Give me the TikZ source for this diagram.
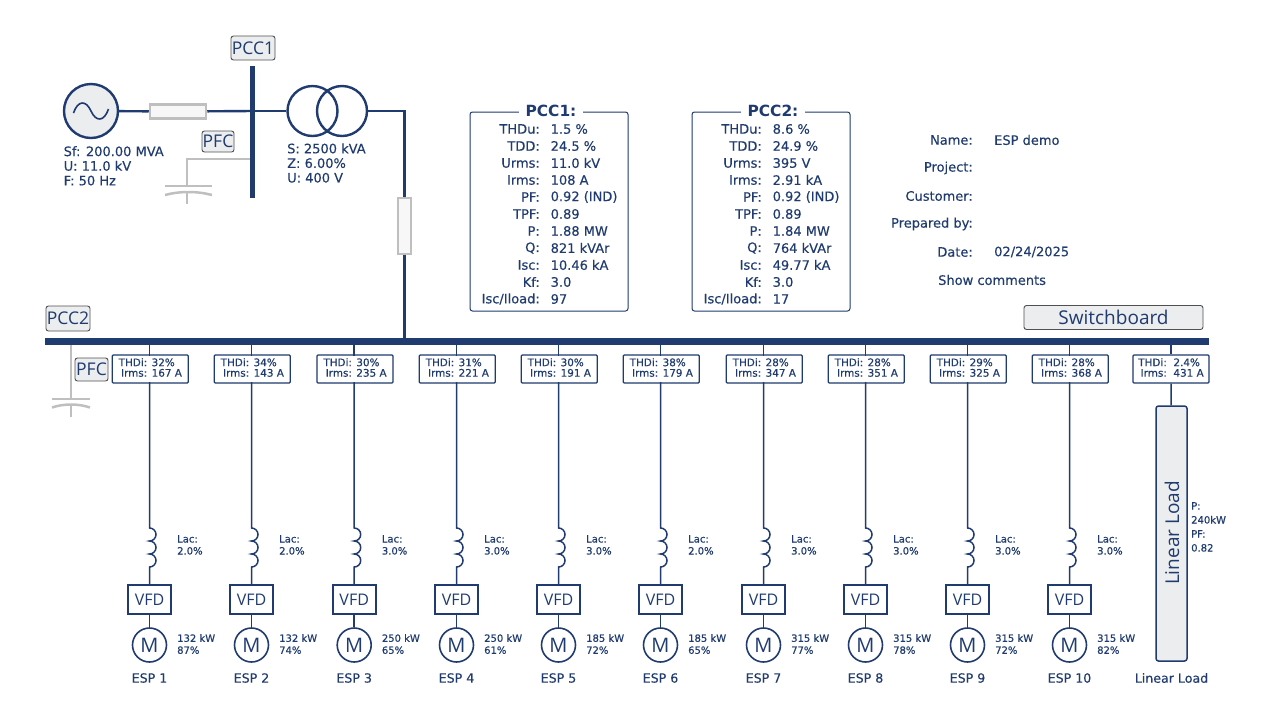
\documentclass[tikz,border=0pt]{standalone}
\usepackage{fontspec}
\setmainfont{DejaVu Sans}
\newfontfamily\tagfont{Open Sans}
\newfontfamily\datafont[FakeBold=0.3]{DejaVu Sans}
\newfontfamily\smallfont[FakeBold=0.5]{DejaVu Sans}
\usetikzlibrary{positioning}

\definecolor{navy}{HTML}{1F3B6F}
\definecolor{panel}{HTML}{EBEDEE}
\definecolor{ghost}{HTML}{BFBFBF}
\definecolor{tagline}{HTML}{505050}

\tikzset{
  wire/.style={draw=navy,line width=2.4pt},
  feeder/.style={draw=navy,line width=1.5pt},
  offline/.style={draw=ghost,line width=2.8pt},
  plate/.style={draw=ghost,line width=2.5pt},
  busbar/.style={draw=navy,line width=6.5pt},
  tag/.style={draw=tagline,fill=panel,rounded corners=2.5pt,line width=.9pt,text=navy,inner sep=0pt,font=\tagfont\fontsize{#1}{#1}\selectfont},
  tag/.default=18pt,
  resistor/.style={draw=ghost,fill=white!97!black,line width=2.5pt,inner sep=0pt},
  txt/.style={text=navy,inner sep=0pt,font=\datafont\fontsize{13pt}{14.6pt}\selectfont},
  small/.style={text=navy,inner sep=0pt,font=\smallfont\fontsize{10pt}{12pt}\selectfont},
  meas/.style={draw=navy,fill=white,rounded corners=1pt,line width=1.2pt,minimum width=76pt,minimum height=28pt,inner sep=0pt,text=navy,font=\smallfont\fontsize{10.4pt}{12pt}\selectfont},
  vfd/.style={draw=navy,line width=1.6pt,minimum width=43pt,minimum height=29pt,inner sep=0pt,text=navy,font=\tagfont\fontsize{16pt}{16pt}\selectfont},
  motor/.style={circle,draw=navy,line width=1.6pt,minimum size=34pt,inner sep=0pt,text=navy,font=\tagfont\fontsize{20pt}{20pt}\selectfont},
  info/.style={draw=navy,rounded corners=2.5pt,line width=1pt,minimum width=158pt,minimum height=199pt,inner sep=0pt},
  headline/.style={fill=white,text=navy,inner xsep=7pt,inner ysep=1pt,font=\bfseries\fontsize{15.4pt}{16pt}\selectfont}
}

\begin{document}
\begin{tikzpicture}[x=1pt,y=-1pt]
\useasboundingbox (0,0) rectangle (1277,724);

% Supply side
\node[circle,draw=navy,fill=panel,line width=2.4pt,minimum size=54pt,inner sep=0pt] (source) at (91,111) {};
\draw[navy,line width=1.6pt] (73.5,113) .. controls (78,100) and (86,100) .. (91,111) .. controls (96,122) and (104,122) .. (108.5,109);
\node[resistor,minimum width=56pt,minimum height=14pt] (lineres) at (178,111.5) {};
\coordinate (pccOneTop) at (252.5,66);
\coordinate (pccOneBot) at (252.5,198);
\coordinate (pccOneTap) at (252.5,111);
\coordinate (pfcOneTap) at (252.5,159);
\node[circle,draw=navy,line width=2.4pt,minimum size=50pt,inner sep=0pt] (prim) at (312.5,111) {};
\node[circle,draw=navy,line width=2.4pt,minimum size=50pt,inner sep=0pt] (sec) at (342,111) {};
\node[resistor,minimum width=13pt,minimum height=56pt] (trafores) at (404.5,226) {};
\coordinate (trafoBend) at (404.5,111);
\draw[wire] (source) -- (lineres);
\draw[wire] (lineres) -- (pccOneTap);
\draw[wire] (pccOneTap) -- (prim);
\draw[wire] (sec) -- (trafoBend) -- (trafores);

\node[tag=17.5pt,minimum width=44pt,minimum height=24pt] (pccOne) at (253,48) {PCC1};
\node[tag=17.5pt,minimum width=32pt,minimum height=21pt] (pfcOne) at (218,141.5) {PFC};

% Capacitor on PCC1
\coordinate (capOneTop) at (187,185);
\coordinate (capOneBend) at (187,159);
\draw[offline] (pfcOneTap) -- (capOneBend) -- (capOneTop);
\draw[plate] (165,186) -- (212,186);
\draw[plate] (165,195) .. controls (180,191) and (197,191) .. (212,195);
\draw[offline] (187,192) -- (187,204);
\draw[navy,line width=5.5pt] (pccOneTop) -- (pccOneBot);

\node[txt,anchor=north west,align=left] (srcdata) at (63.5,146) {Sf: 200.00 MVA\\U: 11.0 kV\\F: 50 Hz};
\node[txt,anchor=north west,align=left] (trafodata) at (287,143.2) {S: 2500 kVA\\Z: 6.00\%\\U: 400 V};

% Main bus
\coordinate (busW) at (45,341.5);
\coordinate (busE) at (1209,341.5);
\coordinate (busTrafo) at (404.5,341.5);
\draw[wire] (trafores) -- (busTrafo);
\draw[busbar] (busW) -- (busE);
\node[tag=17.5pt,minimum width=44pt,minimum height=25pt] (pccTwo) at (68,318.5) {PCC2};
\node[tag=19pt,minimum width=179pt,minimum height=24pt] (switchboard) at (1113.5,317.5) {Switchboard};
\node[tag=17.5pt,minimum width=33pt,minimum height=23pt] (pfcTwo) at (91.5,369.5) {PFC};

% Capacitor on PCC2
\coordinate (capTwoTap) at (71,345);
\coordinate (capTwoTop) at (71,398);
\draw[offline] (capTwoTap) -- (capTwoTop);
\draw[plate] (52,399) -- (90,399);
\draw[plate] (52,407.5) .. controls (64,403.5) and (78,403.5) .. (90,407.5);
\draw[offline] (71,405) -- (71,417);

% Feeders
\foreach \x/\n/\thd/\irms/\lac/\kw/\eff in {
  149.5/1/32/167/2.0/132/87,
  251.5/2/34/143/2.0/132/74,
  354.2/3/30/235/3.0/250/65,
  456.5/4/31/221/3.0/250/61,
  558.5/5/30/191/3.0/185/72,
  660.5/6/38/179/2.0/185/65,
  763.5/7/28/347/3.0/315/77,
  865.5/8/28/351/3.0/315/78,
  967.5/9/29/325/3.0/315/72,
  1069.5/10/28/368/3.0/315/82}{
  \coordinate (tap\n) at (\x,341.5);
  \node[meas] (meas\n) at (\x+0.8,369) {\begin{tabular}{@{}r@{ }l@{}}THDi:&\thd\%\\[-1.5pt]Irms:&\irms{} A\end{tabular}};
  \coordinate (measIn\n) at (\x,356);
  \coordinate (measOut\n) at (\x,382);
  \coordinate (coilTop\n) at (\x,528);
  \coordinate (coilBot\n) at (\x,567);
  \node[vfd] (vfd\n) at (\x,599.5) {VFD};
  \node[motor] (motor\n) at (\x,645) {M};
  \draw[feeder] (tap\n) -- (measIn\n);
  \draw[feeder] (measOut\n) -- (coilTop\n) arc[start angle=90,end angle=-90,radius=6.5pt] arc[start angle=90,end angle=-90,radius=6.5pt] arc[start angle=90,end angle=-90,radius=6.5pt] -- (vfd\n);
  \draw[feeder] (vfd\n) -- (motor\n);
  \node[small,anchor=north west,align=left] (lac\n) at (\x+27.5,535) {Lac:\\\lac\%};
  \node[small,anchor=north west,align=left] (rate\n) at (\x+27.5,634) {\kw{} kW\\\eff\%};
  \node[txt,font=\datafont\fontsize{12.6pt}{14pt}\selectfont] (esp\n) at (\x,678) {ESP \n};
}

% Linear load
\coordinate (tapLin) at (1171,341.5);
\node[meas] (measLin) at (1171,369) {\begin{tabular}{@{}r@{\ \ }l@{}}THDi:&2.4\%\\[-1.5pt]Irms:&431 A\end{tabular}};
\node[draw=navy,fill=panel,rounded corners=2.5pt,line width=1.5pt,minimum width=31pt,minimum height=255pt,inner sep=0pt] (linload) at (1171.5,533.5) {};
\node[text=navy,rotate=90,inner sep=0pt,font=\tagfont\fontsize{19pt}{19pt}\selectfont] (linlabel) at (1172,533) {Linear Load};
\draw[feeder] (tapLin) -- (measLin);
\draw[feeder] (measLin) -- (linload);
\node[small,anchor=north west,align=left,font=\smallfont\fontsize{10pt}{14pt}\selectfont] (lindata) at (1191,502) {P:\\240kW\\PF:\\0.82};
\node[txt,font=\datafont\fontsize{12.6pt}{14pt}\selectfont] (linname) at (1171.5,678) {Linear Load};

% PCC summary panels
\node[info] (infoA) at (549,211.5) {};
\node[info] (infoB) at (771,211.5) {};
\node[headline] (titleA) at (551,111) {PCC1:};
\node[headline] (titleB) at (773,111) {PCC2:};
\foreach \y/\lab/\va/\vb in {
  129/THDu:/1.5 \%/8.6 \%,
  146/TDD:/24.5 \%/24.9 \%,
  163/Urms:/11.0 kV/395 V,
  180/Irms:/108 A/2.91 kA,
  197/PF:/0.92 (IND)/0.92 (IND),
  214/TPF:/0.89/0.89,
  231/P:/1.88 MW/1.84 MW,
  248/Q:/821 kVAr/764 kVAr,
  265/Isc:/10.46 kA/49.77 kA,
  282/Kf:/3.0/3.0,
  299/{Isc/Iload:}/97/17}{
  \node[txt,anchor=east] (labA\y) at (540,\y) {\lab};
  \node[txt,anchor=west] (valA\y) at (550.5,\y) {\va};
  \node[txt,anchor=east] (labB\y) at (762,\y) {\lab};
  \node[txt,anchor=west] (valB\y) at (772.5,\y) {\vb};
}

% Project data
\foreach \y/\lab in {140/Name:,168/Project:,196/Customer:,224/Prepared by:,252/Date:}{
  \node[txt,anchor=east] (proj\y) at (973,\y) {\lab};
}
\node[txt,anchor=west] (nameVal) at (994,140) {ESP demo};
\node[txt,anchor=west] (dateVal) at (994,252) {02/24/2025};
\node[txt,anchor=west] (comments) at (938,280) {Show comments};

\end{tikzpicture}
\end{document}
